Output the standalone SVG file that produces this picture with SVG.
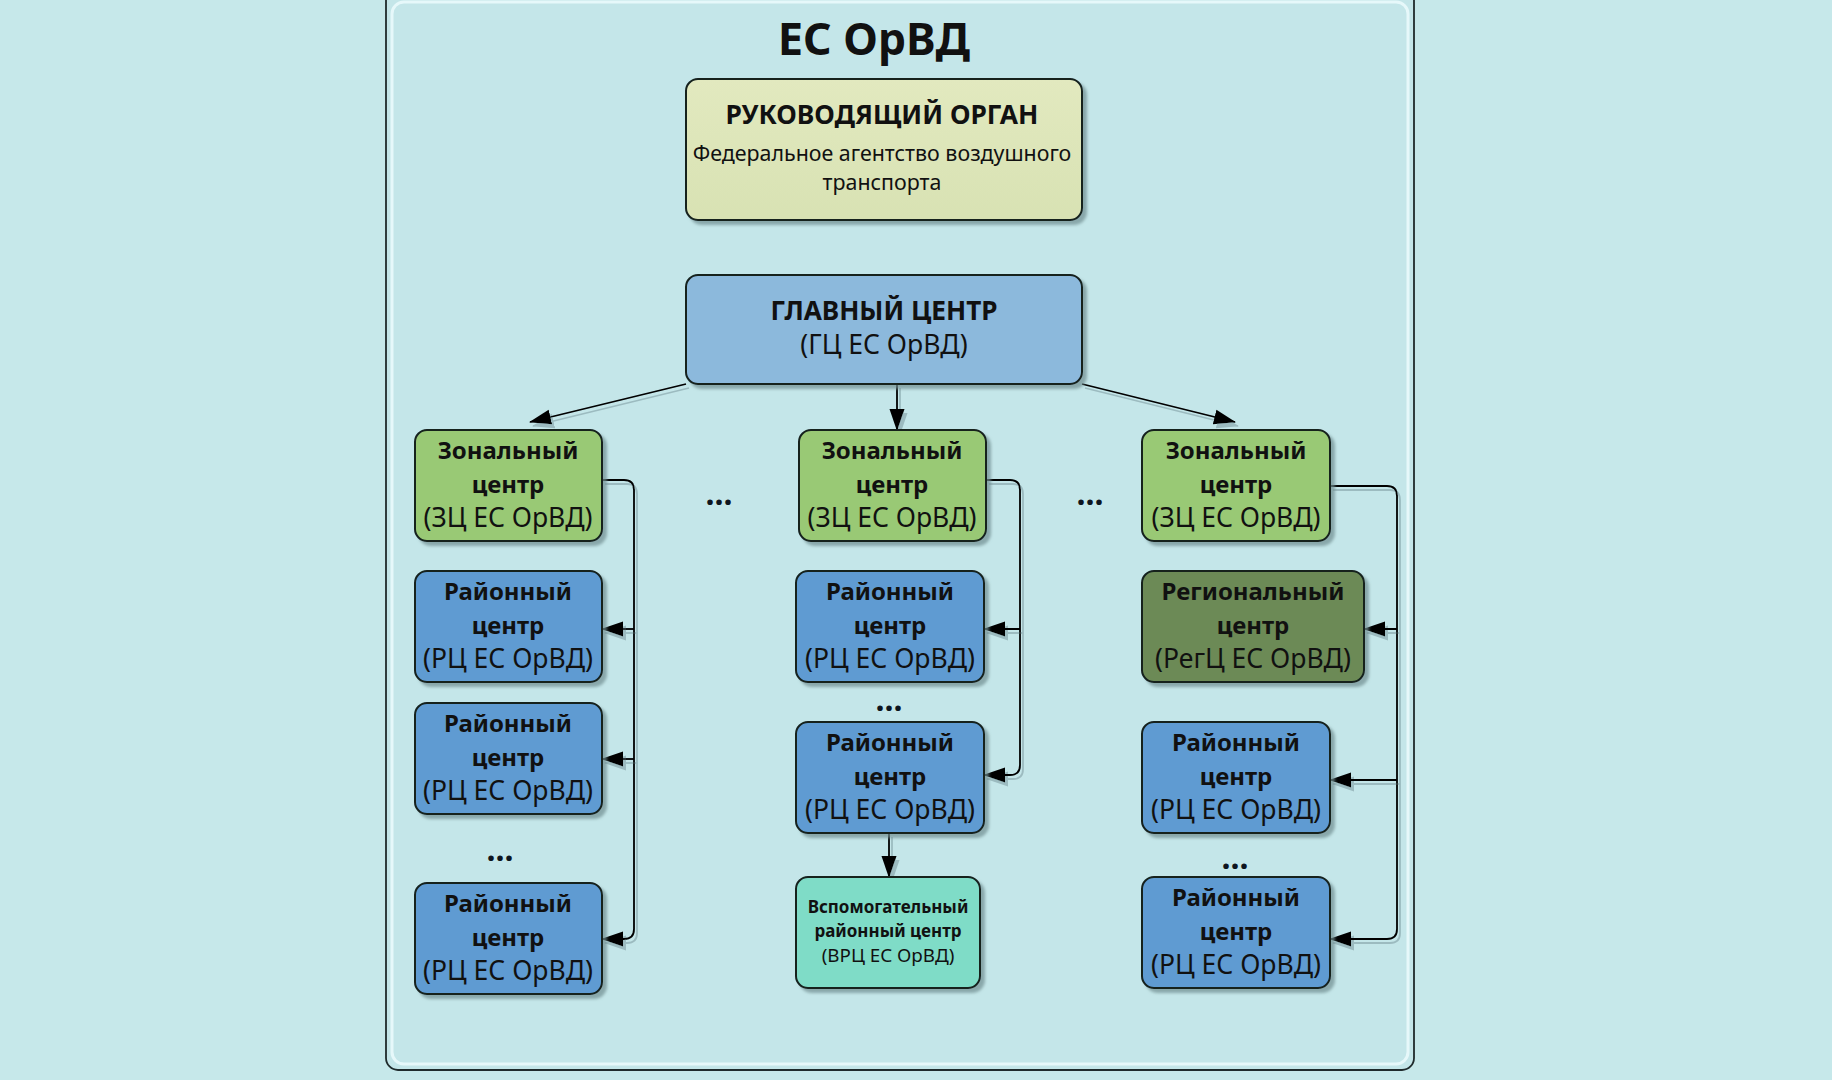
<svg xmlns="http://www.w3.org/2000/svg" width="1832" height="1080" viewBox="0 0 1832 1080">
<defs>
<filter id="sh" x="-10%" y="-10%" width="130%" height="130%">
<feDropShadow dx="4" dy="4" stdDeviation="1.5" flood-color="#6f8d90" flood-opacity="0.7"/>
</filter>
<filter id="lsh" x="-5%" y="-5%" width="110%" height="110%">
<feDropShadow dx="3" dy="4" stdDeviation="0.6" flood-color="#8aa9ae" flood-opacity="0.7"/>
</filter>
<marker id="arr" markerUnits="userSpaceOnUse" markerWidth="22" markerHeight="18" viewBox="0 0 22 18" refX="21" refY="9" orient="auto">
<path d="M0,1.5 L22,9 L0,16.5 Z" fill="#000" stroke="none"/>
</marker>
<linearGradient id="gTop" x1="0" y1="0" x2="0" y2="1"><stop offset="0" stop-color="#e2e9bf"/><stop offset="1" stop-color="#d8e2b3"/></linearGradient>
</defs>
<style>
.box{stroke:#15201f;stroke-width:2}
.t{font-family:"Noto Sans","Open Sans","DejaVu Sans",sans-serif;text-anchor:middle;fill:#111}
.b{font-weight:bold}
.n{font-size:24px}
.r{font-size:26.5px}
.c{fill:none;stroke:#000;stroke-width:1.8}
.dots{font-family:"Noto Sans","DejaVu Sans",sans-serif;font-weight:bold;font-size:32px;text-anchor:middle;fill:#0d1520}
</style>
<rect x="0" y="0" width="1832" height="1080" fill="#c6e8ea"/>
<g id="frame">
<rect x="386" y="-12" width="1028" height="1082" rx="12" fill="#c4e6e9" stroke="#1f2b2c" stroke-width="1.8"/>
<rect x="392" y="2" width="1016" height="1062" rx="12" fill="none" stroke="#e6f8fa" stroke-width="3"/>
</g>
<text id="title" class="t b" x="874" y="55" font-size="44.5">ЕС ОрВД</text>

<g id="connectors" class="c" filter="url(#lsh)">
<path class="c" d="M686,384 L530,422" marker-end="url(#arr)"/>
<path class="c" d="M897,384 V430" marker-end="url(#arr)"/>
<path class="c" d="M1082,384 L1235,422" marker-end="url(#arr)"/>
<path class="c" d="M602,480 H624 Q634,480 634,490 V929 Q634,939 624,939 H602" marker-end="url(#arr)"/>
<path class="c" d="M634,629 H602" marker-end="url(#arr)"/>
<path class="c" d="M634,759 H602" marker-end="url(#arr)"/>
<path class="c" d="M986,480 H1010 Q1020,480 1020,490 V765 Q1020,775 1010,775 H984" marker-end="url(#arr)"/>
<path class="c" d="M1020,629 H984" marker-end="url(#arr)"/>
<path class="c" d="M1330,486 H1387 Q1397,486 1397,496 V929 Q1397,939 1387,939 H1330" marker-end="url(#arr)"/>
<path class="c" d="M1397,629 H1364" marker-end="url(#arr)"/>
<path class="c" d="M1397,780 H1330" marker-end="url(#arr)"/>
<path class="c" d="M889,833 V877" marker-end="url(#arr)"/>
</g>

<g id="rukovod">
<rect class="box" x="686" y="79" width="396" height="141" rx="12" fill="url(#gTop)" filter="url(#sh)"/>
<text class="t b" x="882" y="124" font-size="26.4">РУКОВОДЯЩИЙ ОРГАН</text>
<text class="t" x="882" y="161" font-size="21.4">Федеральное агентство воздушного</text>
<text class="t" x="882" y="190" font-size="21.4">транспорта</text>
</g>

<g id="glavny">
<rect class="box" x="686" y="275" width="396" height="109" rx="12" fill="#8cb9dc" filter="url(#sh)"/>
<text class="t b" x="884" y="320" font-size="26.2">ГЛАВНЫЙ ЦЕНТР</text>
<text class="t" x="884" y="354" font-size="26.5">(ГЦ ЕС ОрВД)</text>
</g>

<g id="zc1">
<rect class="box" x="415" y="430" width="187" height="111" rx="12" fill="#99c975" filter="url(#sh)"/>
<text class="t b n" x="508" y="459">Зональный</text>
<text class="t b n" x="508" y="493">центр</text>
<text class="t r" x="508" y="527">(ЗЦ ЕС ОрВД)</text>
</g>
<g id="zc2">
<rect class="box" x="799" y="430" width="187" height="111" rx="12" fill="#99c975" filter="url(#sh)"/>
<text class="t b n" x="892" y="459">Зональный</text>
<text class="t b n" x="892" y="493">центр</text>
<text class="t r" x="892" y="527">(ЗЦ ЕС ОрВД)</text>
</g>
<g id="zc3">
<rect class="box" x="1142" y="430" width="188" height="111" rx="12" fill="#99c975" filter="url(#sh)"/>
<text class="t b n" x="1236" y="459">Зональный</text>
<text class="t b n" x="1236" y="493">центр</text>
<text class="t r" x="1236" y="527">(ЗЦ ЕС ОрВД)</text>
</g>

<g id="rc1">
<rect class="box" x="415" y="571" width="187" height="111" rx="12" fill="#5e9bd2" filter="url(#sh)"/>
<text class="t b n" x="508" y="600">Районный</text>
<text class="t b n" x="508" y="634">центр</text>
<text class="t r" x="508" y="668">(РЦ ЕС ОрВД)</text>
</g>
<g id="rc2">
<rect class="box" x="415" y="703" width="187" height="111" rx="12" fill="#5e9bd2" filter="url(#sh)"/>
<text class="t b n" x="508" y="732">Районный</text>
<text class="t b n" x="508" y="766">центр</text>
<text class="t r" x="508" y="800">(РЦ ЕС ОрВД)</text>
</g>
<g id="rc3">
<rect class="box" x="415" y="883" width="187" height="111" rx="12" fill="#5e9bd2" filter="url(#sh)"/>
<text class="t b n" x="508" y="912">Районный</text>
<text class="t b n" x="508" y="946">центр</text>
<text class="t r" x="508" y="980">(РЦ ЕС ОрВД)</text>
</g>

<g id="rc4">
<rect class="box" x="796" y="571" width="188" height="111" rx="12" fill="#5e9bd2" filter="url(#sh)"/>
<text class="t b n" x="890" y="600">Районный</text>
<text class="t b n" x="890" y="634">центр</text>
<text class="t r" x="890" y="668">(РЦ ЕС ОрВД)</text>
</g>
<g id="rc5">
<rect class="box" x="796" y="722" width="188" height="111" rx="12" fill="#5e9bd2" filter="url(#sh)"/>
<text class="t b n" x="890" y="751">Районный</text>
<text class="t b n" x="890" y="785">центр</text>
<text class="t r" x="890" y="819">(РЦ ЕС ОрВД)</text>
</g>
<g id="vrc">
<rect class="box" x="796" y="877" width="184" height="111" rx="12" fill="#7fdcc7" filter="url(#sh)"/>
<text class="t b" x="888" y="913" font-size="17">Вспомогательный</text>
<text class="t b" x="888" y="937" font-size="17">районный центр</text>
<text class="t" x="888" y="962" font-size="18.8">(ВРЦ ЕС ОрВД)</text>
</g>

<g id="regc">
<rect class="box" x="1142" y="571" width="222" height="111" rx="12" fill="#6c8a57" filter="url(#sh)"/>
<text class="t b n" x="1253" y="600">Региональный</text>
<text class="t b n" x="1253" y="634">центр</text>
<text class="t r" x="1253" y="668">(РегЦ ЕС ОрВД)</text>
</g>
<g id="rc6">
<rect class="box" x="1142" y="722" width="188" height="111" rx="12" fill="#5e9bd2" filter="url(#sh)"/>
<text class="t b n" x="1236" y="751">Районный</text>
<text class="t b n" x="1236" y="785">центр</text>
<text class="t r" x="1236" y="819">(РЦ ЕС ОрВД)</text>
</g>
<g id="rc7">
<rect class="box" x="1142" y="877" width="188" height="111" rx="12" fill="#5e9bd2" filter="url(#sh)"/>
<text class="t b n" x="1236" y="906">Районный</text>
<text class="t b n" x="1236" y="940">центр</text>
<text class="t r" x="1236" y="974">(РЦ ЕС ОрВД)</text>
</g>

<g id="ellipses">
<text class="dots" x="719" y="505">...</text>
<text class="dots" x="1090" y="505">...</text>
<text class="dots" x="500" y="861">...</text>
<text class="dots" x="889" y="711">...</text>
<text class="dots" x="1235" y="869">...</text>
</g>
</svg>
